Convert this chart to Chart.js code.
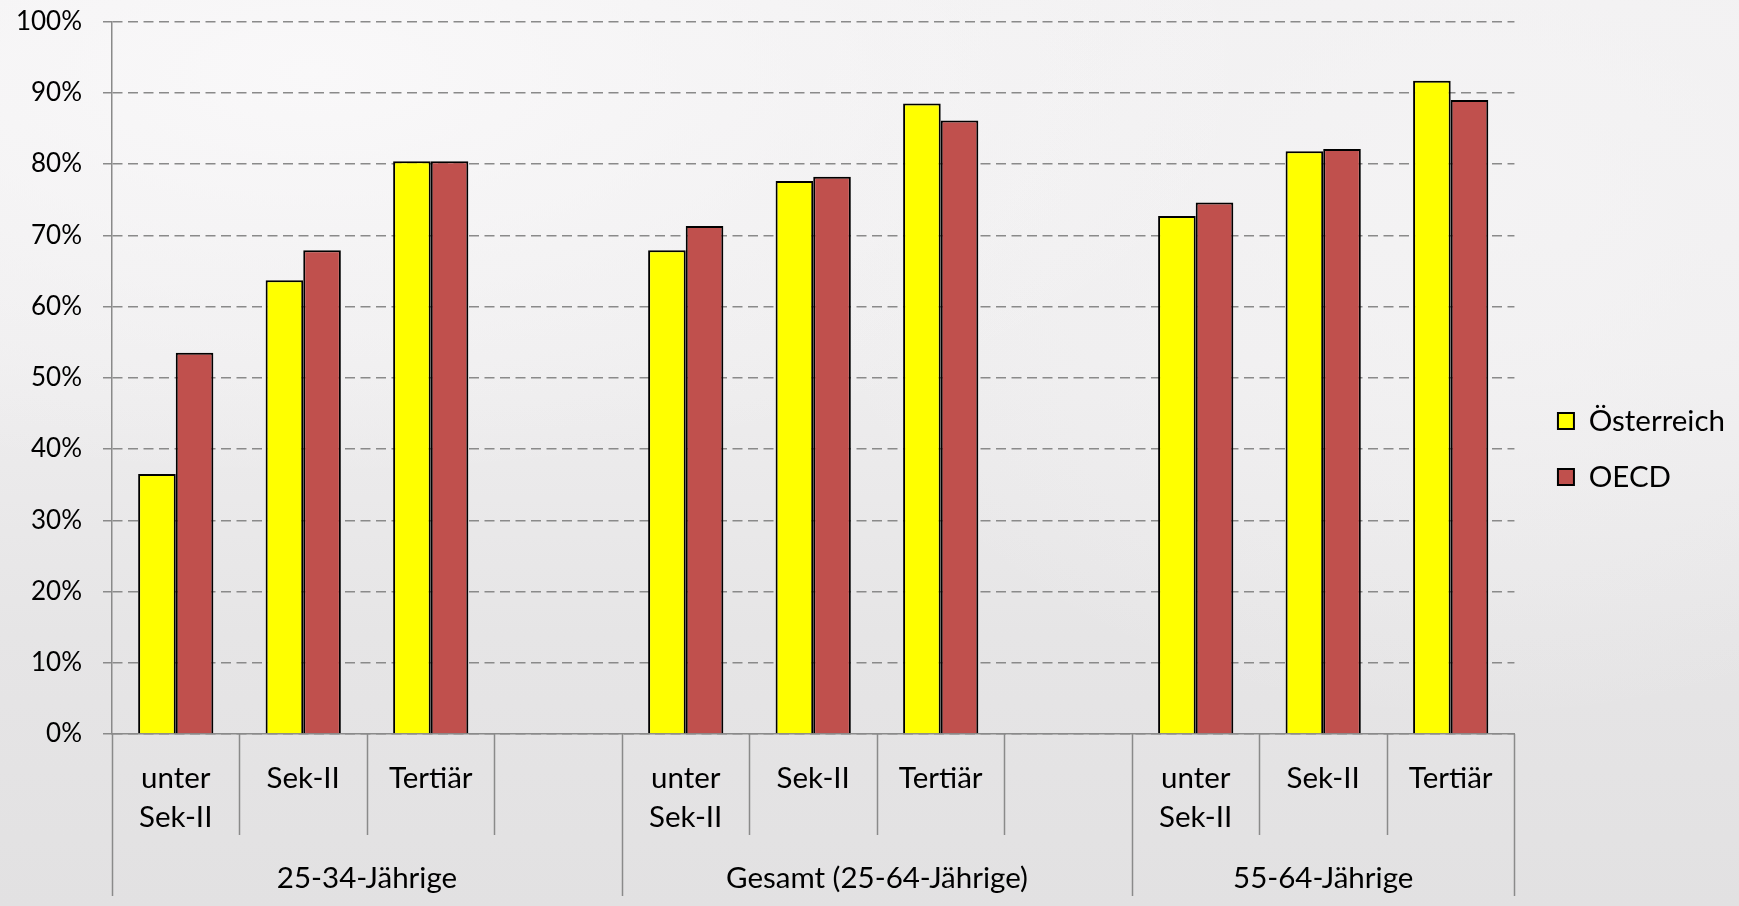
<!DOCTYPE html>
<html>
<head>
<meta charset="utf-8">
<script src="https://cdn.jsdelivr.net/npm/chart.js@4.4.1/dist/chart.umd.min.js"></script>
<style>
  html, body { margin: 0; padding: 0; }
  body {
    width: 1739px; height: 906px; overflow: hidden;
    background:
      radial-gradient(ellipse 55% 45% at 18% 8%, rgba(250,249,250,0.9) 0%, rgba(250,249,250,0) 100%),
      radial-gradient(ellipse 40% 60% at 85% 20%, rgba(245,244,245,0.8) 0%, rgba(245,244,245,0) 100%),
      linear-gradient(to bottom, #f1f0f1 0%, #eeedee 40%, #e6e5e6 70%, #e2e1e2 100%);
  }
  #wrap { position: absolute; left: 0; top: 0; width: 1739px; height: 906px; }
</style>
</head>
<body>
<div id="wrap"><canvas id="c"></canvas></div>
<script>
// ---- data ----
const categories = [['unter', 'Sek-II'], 'Sek-II', 'Tertiär', '',
                    ['unter', 'Sek-II'], 'Sek-II', 'Tertiär', '',
                    ['unter', 'Sek-II'], 'Sek-II', 'Tertiär'];
const groupNames = ['25-34-Jährige', 'Gesamt (25-64-Jährige)', '55-64-Jährige'];
const groupSizes = [4, 4, 3];
const seriesNames = ['Österreich', 'OECD'];
const austria = [36.5, 63.7, 80.4, null, 67.9, 77.6, 88.5, null, 72.7, 81.8, 91.7];
const oecd    = [53.5, 67.9, 80.4, null, 71.3, 78.2, 86.1, null, 74.6, 82.1, 89.0];
const yTicks = [0, 10, 20, 30, 40, 50, 60, 70, 80, 90, 100];

const FONT = 'Lato, "Open Sans", sans-serif';
const GRAY = '#8a8a8a';

const groupPlugin = {
  id: 'groupAxis',
  afterDraw(chart) {
    const xs = chart.scales.x;
    const ctx = chart.ctx;
    const step = xs.getPixelForValue(1) - xs.getPixelForValue(0);
    const axisY = xs.top;
    const shortEnd = axisY + 101;
    const longEnd = axisY + 162;
    ctx.save();
    ctx.strokeStyle = GRAY;
    ctx.lineWidth = 1.5;
    let start = 0;
    const bounds = new Set([0]);
    groupSizes.forEach(n => { start += n; bounds.add(start); });
    for (let b = 0; b <= categories.length; b++) {
      const px = Math.round(xs.getPixelForValue(b) - step / 2) + 0.5;
      ctx.beginPath();
      ctx.moveTo(px, axisY);
      ctx.lineTo(px, bounds.has(b) ? longEnd : shortEnd);
      ctx.stroke();
    }
    ctx.fillStyle = '#000';
    ctx.font = '29.5px ' + FONT;
    ctx.textAlign = 'center';
    ctx.textBaseline = 'middle';
    let s = 0;
    groupNames.forEach((name, gi) => {
      const a = xs.getPixelForValue(s) - step / 2;
      const e = xs.getPixelForValue(s + groupSizes[gi] - 1) + step / 2;
      ctx.fillText(name, (a + e) / 2, axisY + 144);
      s += groupSizes[gi];
    });
    ctx.restore();
  }
};

new Chart(document.getElementById('c'), {
  type: 'bar',
  data: {
    labels: categories,
    datasets: [
      { label: seriesNames[0], data: austria, backgroundColor: '#ffff00', borderColor: '#000', borderWidth: 2 },
      { label: seriesNames[1], data: oecd, backgroundColor: '#c0504d', borderColor: '#000', borderWidth: 2 }
    ]
  },
  options: {
    responsive: true,
    maintainAspectRatio: false,
    devicePixelRatio: 1,
    animation: false,
    datasets: { bar: { categoryPercentage: 0.59, barPercentage: 1.0 } },
    layout: { padding: { top: 6, right: 4, bottom: 14, left: 0 } },
    plugins: {
      tooltip: { enabled: false },
      legend: {
        position: 'right',
        labels: {
          boxWidth: 16, boxHeight: 16, padding: 26.5,
          color: '#000',
          font: { family: FONT, size: 29.5 }
        }
      }
    },
    scales: {
      x: {
        grid: { display: false },
        border: { display: true, color: GRAY, width: 1.5 },
        ticks: {
          autoSkip: false, maxRotation: 0, minRotation: 0,
          color: '#000', padding: 16.5,
          font: { family: FONT, size: 29.5, lineHeight: 1.322 }
        },
        afterFit(s) { s.height = 158; }
      },
      y: {
        min: 0, max: 100,
        afterBuildTicks(s) { s.ticks = yTicks.map(v => ({ value: v })); },
        grid: {
          color: GRAY, lineWidth: 1.5, tickLength: 9, drawTicks: true,
          tickBorderDash: [10, 5.5]
        },
        border: { display: true, color: GRAY, width: 1.5, dash: [10, 5.5] },
        ticks: {
          color: '#000', padding: 21,
          font: { family: FONT, size: 26, lineHeight: 0.04 },
          callback: v => v + '%'
        },
        afterFit(s) { s.width = 112; }
      },
      yR: {
        position: 'right',
        display: true,
        grid: { display: false },
        border: { display: false },
        ticks: { display: false },
        afterFit(s) { s.width = 17; }
      }
    }
  },
  plugins: [groupPlugin]
});
</script>
</body>
</html>
